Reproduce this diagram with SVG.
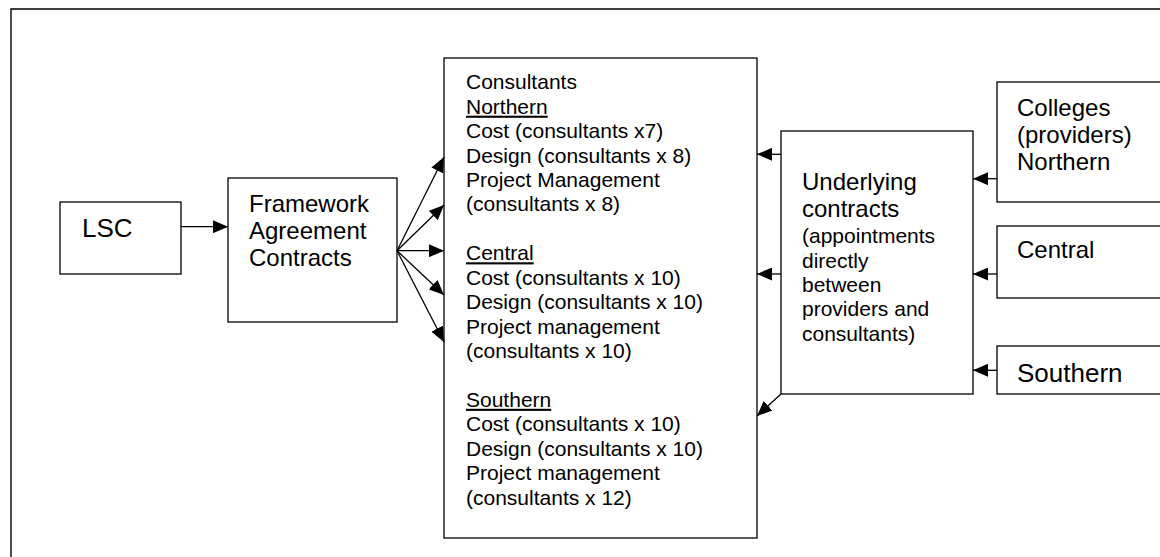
<svg xmlns="http://www.w3.org/2000/svg" width="1160" height="557" viewBox="0 0 1160 557">
<style>
  .box { fill: #fff; stroke: #000; stroke-width: 1.3; }
  .frame { fill: none; stroke: #000; stroke-width: 1.4; }
  .t { font-family: "Liberation Sans", Arial, sans-serif; fill: #000; }
  .t21 { font-size: 21px; }
  .t24 { font-size: 24px; }
  .t26 { font-size: 26px; }
  .u { text-decoration: underline; }
  .c { stroke: #000; stroke-width: 1.3; fill: none; marker-end: url(#ah); }
</style>
<defs>
  <marker id="ah" viewBox="0 0 15 13" refX="15" refY="6.5" markerWidth="15" markerHeight="13" markerUnits="userSpaceOnUse" orient="auto">
    <path d="M0,0 L15,6.5 L0,13 z" fill="#000"/>
  </marker>
</defs>
<rect width="1160" height="557" fill="#fff"/>
<path class="frame" d="M11,557 L11,9 L1160,9"/>

<g id="lsc">
  <rect class="box" x="60" y="202" width="121" height="72"/>
  <text class="t t26" x="82" y="237">LSC</text>
</g>

<g id="framework">
  <rect class="box" x="228" y="178" width="169" height="144"/>
  <text class="t t24" x="249" y="212">Framework</text>
  <text class="t t24" x="249" y="239">Agreement</text>
  <text class="t t24" x="249" y="266">Contracts</text>
</g>

<g id="consultants">
  <rect class="box" x="444" y="58" width="313" height="480"/>
  <text class="t t21" x="466" y="89.3">Consultants</text>
  <text class="t t21 u" x="466" y="113.7">Northern</text>
  <text class="t t21" x="466" y="138.1">Cost (consultants x7)</text>
  <text class="t t21" x="466" y="162.6">Design (consultants x 8)</text>
  <text class="t t21" x="466" y="187">Project Management</text>
  <text class="t t21" x="466" y="211.4">(consultants x 8)</text>
  <text class="t t21 u" x="466" y="260.3">Central</text>
  <text class="t t21" x="466" y="284.7">Cost (consultants x 10)</text>
  <text class="t t21" x="466" y="309.1">Design (consultants x 10)</text>
  <text class="t t21" x="466" y="333.6">Project management</text>
  <text class="t t21" x="466" y="358">(consultants x 10)</text>
  <text class="t t21 u" x="466" y="406.8">Southern</text>
  <text class="t t21" x="466" y="431.3">Cost (consultants x 10)</text>
  <text class="t t21" x="466" y="455.7">Design (consultants x 10)</text>
  <text class="t t21" x="466" y="480.1">Project management</text>
  <text class="t t21" x="466" y="504.6">(consultants x 12)</text>
</g>

<g id="underlying">
  <rect class="box" x="781" y="131" width="192" height="263"/>
  <text class="t t24" x="802" y="190">Underlying</text>
  <text class="t t24" x="802" y="217">contracts</text>
  <text class="t t21" x="802" y="243.3">(appointments</text>
  <text class="t t21" x="802" y="267.7">directly</text>
  <text class="t t21" x="802" y="292">between</text>
  <text class="t t21" x="802" y="316.4">providers and</text>
  <text class="t t21" x="802" y="340.8">consultants)</text>
</g>

<g id="colleges-northern">
  <rect class="box" x="997" y="82" width="180" height="120"/>
  <text class="t t24" x="1017" y="115.5">Colleges</text>
  <text class="t t24" x="1017" y="142.8">(providers)</text>
  <text class="t t24" x="1017" y="170">Northern</text>
</g>

<g id="central">
  <rect class="box" x="997" y="226" width="180" height="72"/>
  <text class="t t24" x="1017" y="258.3">Central</text>
</g>

<g id="southern">
  <rect class="box" x="997" y="346" width="180" height="48"/>
  <text class="t t26" x="1017" y="381.7">Southern</text>
</g>

<g id="connectors">
  <line class="c" x1="181" y1="226.7" x2="228" y2="226.7"/>
  <line class="c" x1="397" y1="250.7" x2="444" y2="157"/>
  <line class="c" x1="397" y1="250.7" x2="444" y2="205"/>
  <line class="c" x1="397" y1="250.7" x2="444" y2="250.7"/>
  <line class="c" x1="397" y1="250.7" x2="444" y2="295"/>
  <line class="c" x1="397" y1="250.7" x2="444" y2="342"/>
  <line class="c" x1="781" y1="154.3" x2="757" y2="154.3"/>
  <line class="c" x1="781" y1="274" x2="757" y2="274"/>
  <line class="c" x1="781" y1="394" x2="757" y2="416"/>
  <line class="c" x1="997" y1="178.7" x2="973" y2="178.7"/>
  <line class="c" x1="997" y1="274" x2="973" y2="274"/>
  <line class="c" x1="997" y1="370.3" x2="973" y2="370.3"/>
</g>
</svg>
